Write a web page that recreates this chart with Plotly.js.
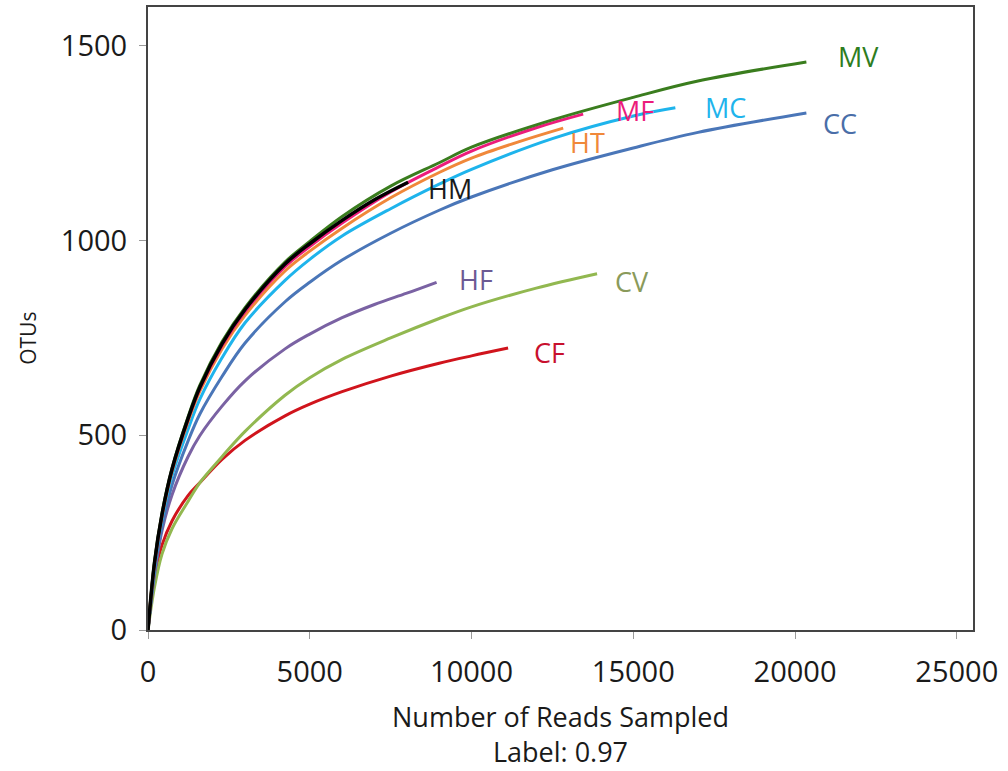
<!DOCTYPE html>
<html>
<head>
<meta charset="utf-8">
<script src="https://cdn.plot.ly/plotly-3.0.1.min.js"></script>
<style>
  html, body { margin: 0; padding: 0; background: #ffffff; }
  #chart { width: 1008px; height: 771px; }
</style>
</head>
<body>
<div id="chart"></div>
<script>
// Rarefaction curves: observed OTUs vs. number of reads sampled (cutoff 0.97)

const mvReads = [0, 200, 433, 742, 1237, 1600, 2288, 3000, 4236, 5000, 6000, 7500, 9000, 10000, 12500, 15000, 17000, 20350];
const mvOtus  = [0, 175, 300, 415, 547, 628, 740, 828, 945, 998, 1062, 1140, 1200, 1240, 1310, 1368, 1410, 1459];

const hmReads = [0, 200, 433, 742, 1237, 1600, 2288, 3000, 4236, 5000, 6000, 7000, 8040];
const hmOtus  = [0, 172, 297, 413, 543, 623, 735, 823, 940, 992, 1052, 1105, 1150];

const mfReads = [0, 200, 433, 742, 1237, 1600, 2288, 3000, 4236, 5000, 6000, 7500, 9000, 10000, 12000, 13450];
const mfOtus  = [0, 170, 295, 411, 540, 619, 730, 818, 933, 985, 1045, 1125, 1190, 1230, 1290, 1325];

const htReads = [0, 200, 433, 742, 1237, 1600, 2288, 3000, 4236, 5000, 6000, 7500, 9000, 10000, 11500, 12833];
const htOtus  = [0, 168, 292, 407, 535, 613, 722, 808, 922, 973, 1032, 1110, 1175, 1212, 1255, 1289];

const mcReads = [0, 200, 433, 742, 1237, 1600, 2288, 3000, 4236, 5000, 6000, 7500, 9000, 10000, 12500, 15000, 16300];
const mcOtus  = [0, 160, 285, 396, 515, 592, 699, 789, 898, 952, 1012, 1082, 1145, 1183, 1262, 1320, 1341];

const ccReads = [0, 200, 433, 742, 1237, 1600, 2288, 3000, 4236, 5000, 6000, 7500, 9000, 10000, 12500, 15000, 17000, 20350];
const ccOtus  = [0, 150, 265, 372, 485, 554, 651, 737, 843, 893, 950, 1019, 1078, 1112, 1182, 1238, 1278, 1328];

const hfReads = [0, 200, 433, 742, 1237, 1600, 2288, 3000, 4236, 5000, 6000, 7000, 8000, 8920];
const hfOtus  = [0, 140, 255, 347, 445, 499, 575, 640, 722, 760, 802, 836, 865, 893];

const cvReads = [0, 200, 433, 742, 1237, 1600, 2288, 3000, 4236, 5000, 6000, 7500, 9000, 10000, 12000, 13880];
const cvOtus  = [0, 110, 195, 260, 330, 378, 445, 510, 603, 648, 695, 750, 800, 830, 878, 915];

const cfReads = [0, 200, 433, 742, 1237, 1600, 2288, 3000, 4236, 5000, 6000, 7500, 9000, 10000, 11130];
const cfOtus  = [0, 140, 218, 280, 345, 378, 438, 487, 550, 580, 612, 652, 685, 704, 724];

const sampleNames = ['CF', 'CV', 'HF', 'CC', 'MC', 'HT', 'MF', 'MV', 'HM'];

const xTickVals = [0, 5000, 10000, 15000, 20000, 25000];
const yTickVals = [0, 500, 1000, 1500];

const series = {
  CF: { x: cfReads, y: cfOtus, color: '#d0141c' },
  CV: { x: cvReads, y: cvOtus, color: '#92b850' },
  HF: { x: hfReads, y: hfOtus, color: '#7a62a3' },
  CC: { x: ccReads, y: ccOtus, color: '#4a76b8' },
  MC: { x: mcReads, y: mcOtus, color: '#1eb4ec' },
  HT: { x: htReads, y: htOtus, color: '#f0883a' },
  MF: { x: mfReads, y: mfOtus, color: '#ec1c7b' },
  MV: { x: mvReads, y: mvOtus, color: '#3a7d1e' },
  HM: { x: hmReads, y: hmOtus, color: '#000000' }
};

// label placement next to each curve end, in data units
const labelSpots = {
  MV: { x: 21950, y: 1472, color: '#2e7d1e' },
  MC: { x: 17840, y: 1343, color: '#1eb4ec' },
  MF: { x: 15060, y: 1333, color: '#ec1c7b' },
  CC: { x: 21400, y: 1300, color: '#4a6ea8' },
  HT: { x: 13575, y: 1253, color: '#f0883a' },
  HM: { x: 9340,  y: 1135, color: '#1a1a1a' },
  HF: { x: 10140, y: 899,  color: '#6c5a94' },
  CV: { x: 14970, y: 896,  color: '#8a9a5a' },
  CF: { x: 12400, y: 712,  color: '#c8102e' }
};

const traces = sampleNames.map(name => ({
  type: 'scatter',
  mode: 'lines',
  name: name,
  x: series[name].x,
  y: series[name].y,
  line: { color: series[name].color, width: name === 'HM' ? 3.5 : 3, shape: 'spline', smoothing: 1 },
  hoverinfo: 'name+x+y'
}));

const annotations = sampleNames.map(name => ({
  xref: 'x', yref: 'y',
  x: labelSpots[name].x, y: labelSpots[name].y,
  text: name,
  showarrow: false,
  xanchor: 'center', yanchor: 'middle',
  font: { family: 'Open Sans, sans-serif', size: 27, color: labelSpots[name].color }
}));

annotations.push({
  xref: 'paper', yref: 'paper',
  x: -0.145, y: 0.468,
  text: 'OTUs',
  textangle: -90,
  showarrow: false,
  xanchor: 'center', yanchor: 'middle',
  font: { family: 'Open Sans, sans-serif', size: 21, color: '#1a1a1a' }
});

const layout = {
  width: 1008,
  height: 771,
  margin: { l: 148, r: 35, t: 7, b: 141 },
  paper_bgcolor: '#ffffff',
  plot_bgcolor: '#ffffff',
  showlegend: false,
  font: { family: 'Open Sans, sans-serif', color: '#1a1a1a' },
  xaxis: {
    range: [0, 25500],
    tickvals: xTickVals,
    ticktext: xTickVals.map(String),
    ticks: 'outside',
    ticklen: 7,
    tickwidth: 1,
    tickcolor: '#9a9a9a',
    ticklabelstandoff: 8,
    showgrid: false,
    zeroline: false,
    showline: true,
    mirror: true,
    linecolor: '#444444',
    linewidth: 2,
    tickfont: { family: 'Open Sans, sans-serif', size: 29, color: '#1a1a1a' },
    title: {
      text: 'Number of Reads Sampled<br>Label: 0.97',
      font: { family: 'Open Sans, sans-serif', size: 27, color: '#1a1a1a' },
      standoff: 19
    }
  },
  yaxis: {
    range: [0, 1600],
    tickvals: yTickVals,
    ticktext: yTickVals.map(String),
    ticks: 'outside',
    ticklen: 7,
    tickwidth: 1,
    tickcolor: '#9a9a9a',
    ticklabelstandoff: 6,
    showgrid: false,
    zeroline: false,
    showline: true,
    mirror: true,
    linecolor: '#444444',
    linewidth: 2,
    tickfont: { family: 'Open Sans, sans-serif', size: 29, color: '#1a1a1a' }
  },
  annotations: annotations
};

Plotly.newPlot('chart', traces, layout, { displayModeBar: false, staticPlot: true });
</script>
</body>
</html>
